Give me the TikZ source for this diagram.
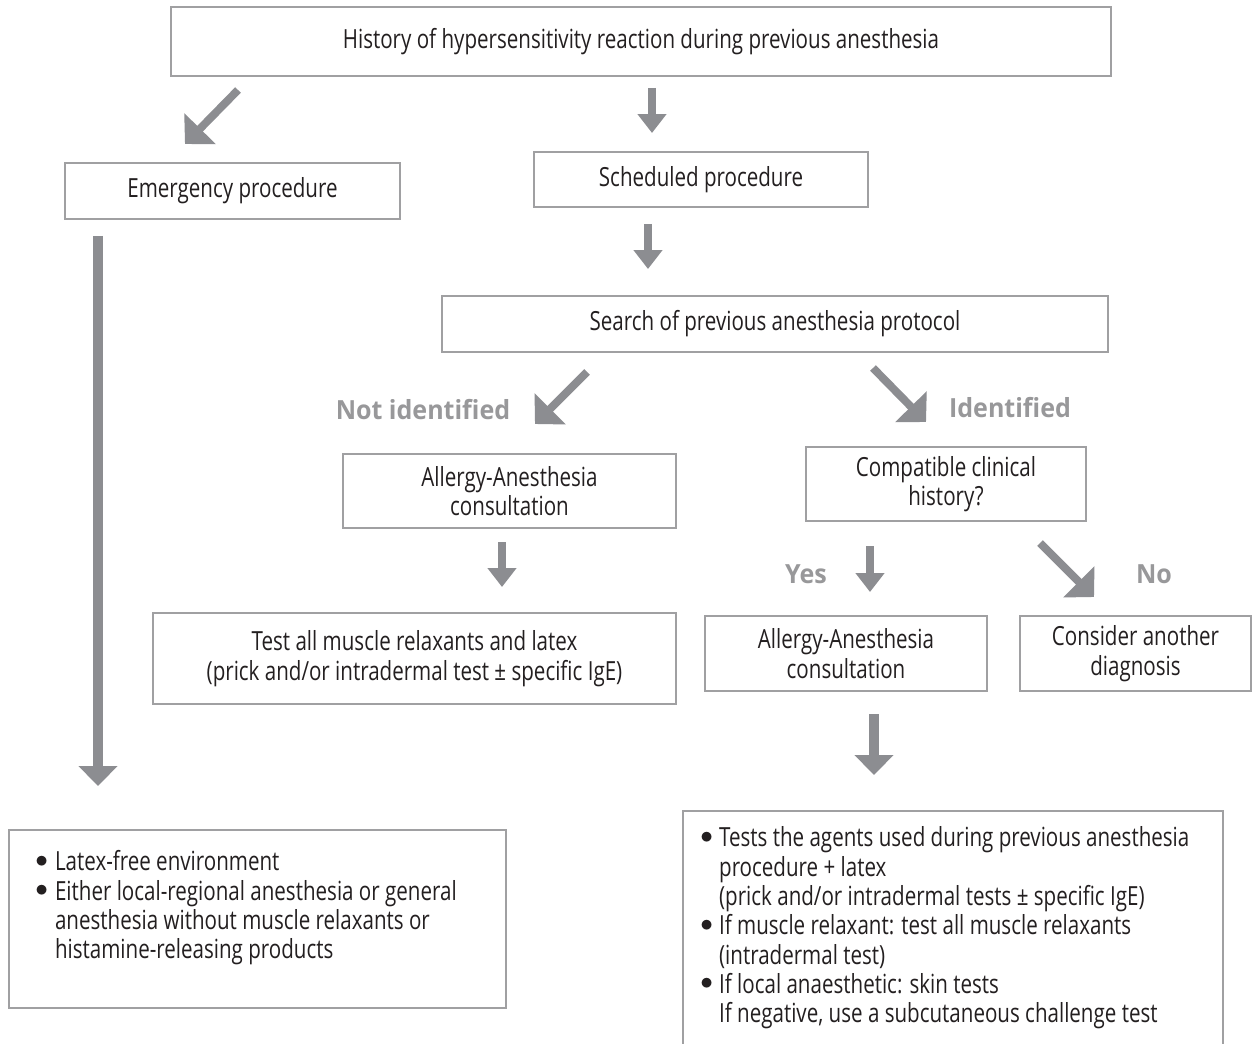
\documentclass[tikz,border=0pt]{standalone}
\usepackage{fontspec}
\setmainfont[FakeStretch=0.78]{Open Sans}
\newfontfamily\lblfont[FakeStretch=0.95]{Open Sans}
\usetikzlibrary{arrows.meta}
\definecolor{boxgray}{RGB}{160,160,162}
\definecolor{arrgray}{RGB}{140,141,145}
\definecolor{lblgray}{RGB}{152,152,154}
\definecolor{txtdark}{RGB}{35,31,32}
\newcommand{\bul}{\raisebox{0.14em}{$\bullet$}}

\begin{document}
\begin{tikzpicture}[x=0.02cm,y=-0.02cm,
    box/.style={draw=boxgray,line width=0.75pt,inner sep=0pt,align=center,text=txtdark,
      font=\fontsize{15}{16.7}\selectfont},
    txt/.style={inner sep=0pt,align=left,text=txtdark,font=\fontsize{15}{16.7}\selectfont},
    lbl/.style={inner sep=0pt,text=lblgray,font=\lblfont\bfseries\fontsize{15}{18}\selectfont},
    downarr/.style={draw=arrgray,line width=4pt,-{Triangle[width=0.56cm,length=0.38cm]}},
    diagarr/.style={draw=arrgray,line width=4.5pt,-{Triangle[width=0.86cm,length=0.43cm]}},
    bigarr/.style={draw=arrgray,line width=5.2pt,-{Triangle[width=0.76cm,length=0.4cm]}}]
    \useasboundingbox[fill=white] (0,0) rectangle (1252,1044);

    \node[box,minimum width=18.8cm,minimum height=1.38cm] (hist) at (641,41.5) {History of hypersensitivity reaction during previous anesthesia};
    \node[box,minimum width=6.7cm,minimum height=1.12cm] (emerg) at (232.5,191) {Emergency procedure};
    \node[box,minimum width=6.68cm,minimum height=1.1cm] (sched) at (701,179.5) {Scheduled procedure};
    \node[box,minimum width=13.32cm,minimum height=1.12cm] (search) at (775,324) {Search of previous anesthesia protocol};
    \node[box,minimum width=6.66cm,minimum height=1.48cm] (consultL) at (509.5,491) {Allergy-Anesthesia\\consultation};
    \node[box,minimum width=5.6cm,minimum height=1.48cm] (compat) at (946,484) {Compatible clinical\\history?};
    \node[box,minimum width=10.46cm,minimum height=1.82cm] (testall) at (414.5,658.5) {Test all muscle relaxants and latex\\(prick and/or intradermal test ± specific IgE)};
    \node[box,minimum width=5.64cm,minimum height=1.5cm] (consultR) at (846,653.5) {Allergy-Anesthesia\\consultation};
    \node[box,minimum width=4.62cm,minimum height=1.5cm] (other) at (1135.5,653.5) {Consider another\\diagnosis};
    \node[box,minimum width=9.94cm,minimum height=3.56cm] (safe) at (257.5,919) {};
    \node[box,minimum width=10.8cm,minimum height=5.18cm] (tests) at (953,940.5) {};

    \node[txt,anchor=north west] (safetxt) at (35,850) {%
      \begin{tabular}{@{}l@{\hspace{4pt}}l@{}}
        \bul & Latex-free environment\\
        \bul & Either local-regional anesthesia or general\\
        & anesthesia without muscle relaxants or\\
        & histamine-releasing products
      \end{tabular}};
    \node[txt,anchor=north west] (teststxt) at (700,826) {%
      \begin{tabular}{@{}l@{\hspace{3.5pt}}l@{}}
        \bul & Tests the agents used during previous anesthesia\\
        & procedure + latex\\
        & (prick and/or intradermal tests ± specific IgE)\\
        \bul & If muscle relaxant: test all muscle relaxants\\
        & (intradermal test)\\
        \bul & If local anaesthetic: skin tests\\
        & If negative, use a subcutaneous challenge test
      \end{tabular}};

    \node[lbl] (notid) at (423,410) {Not identified};
    \node[lbl] (isid) at (1010,408) {Identified};
    \node[lbl] (yes) at (806,574) {Yes};
    \node[lbl] (no) at (1154,574) {No};

    \coordinate (a1s) at (238,90);   \coordinate (a1e) at (185,144);
    \coordinate (a2s) at (652,88);   \coordinate (a2e) at (652,133);
    \coordinate (a3s) at (648,224);  \coordinate (a3e) at (648,269);
    \coordinate (a4s) at (587,372);  \coordinate (a4e) at (535,424);
    \coordinate (a5s) at (873,368);  \coordinate (a5e) at (926,422);
    \coordinate (a6s) at (502,542);  \coordinate (a6e) at (502,587);
    \coordinate (a7s) at (870,546);  \coordinate (a7e) at (870,592);
    \coordinate (a8s) at (1040,543); \coordinate (a8e) at (1094,597);
    \coordinate (a9s) at (98,236);   \coordinate (a9e) at (98,786);
    \coordinate (a10s) at (874,714); \coordinate (a10e) at (874,775);

    \draw[diagarr] (a1s) -- (a1e);
    \draw[downarr] (a2s) -- (a2e);
    \draw[downarr] (a3s) -- (a3e);
    \draw[diagarr] (a4s) -- (a4e);
    \draw[diagarr] (a5s) -- (a5e);
    \draw[downarr] (a6s) -- (a6e);
    \draw[downarr] (a7s) -- (a7e);
    \draw[diagarr] (a8s) -- (a8e);
    \draw[bigarr] (a9s) -- (a9e);
    \draw[bigarr] (a10s) -- (a10e);
\end{tikzpicture}
\end{document}
